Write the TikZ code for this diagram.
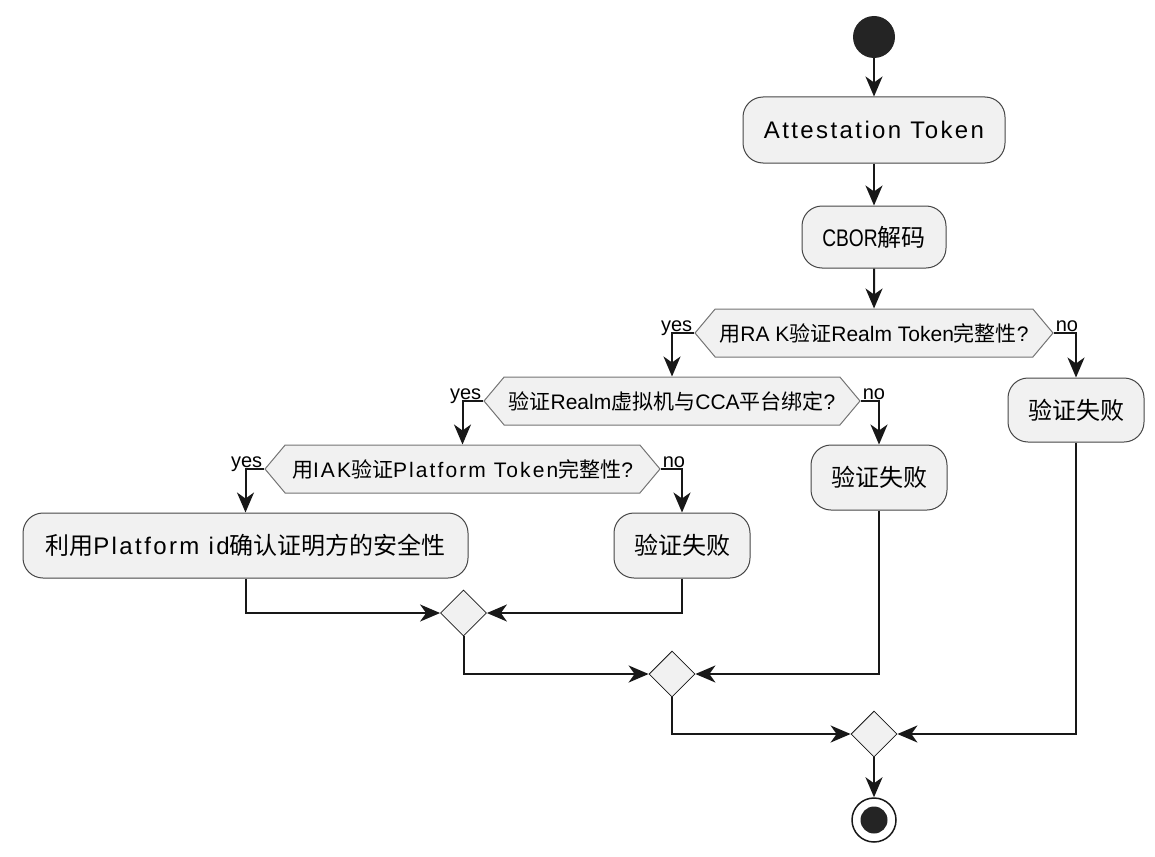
\documentclass[tikz,border=0pt]{standalone}
\usepackage{fontspec}
\setmainfont{Liberation Sans}
\newfontfamily\cjk{Noto Sans CJK SC}
\usetikzlibrary{arrows.meta, shapes.geometric, shapes.symbols}
\definecolor{actfill}{HTML}{F1F1F1}
\definecolor{ink}{HTML}{181818}
\newcommand{\spaced}[1]{{\addfontfeature{LetterSpace=10}#1}}
\newcommand{\narrow}[1]{{\addfontfeature{FakeStretch=0.8}#1}}

\begin{document}
\begin{tikzpicture}[x=1pt, y=-1pt,
    act/.style={draw=ink!80, line width=1pt, fill=actfill, rounded corners=20pt,
                minimum height=64pt, inner sep=4pt, font=\fontsize{24}{28}\selectfont},
    test/.style={shape=signal, signal to=west and east, signal pointer angle=100,
                 draw=ink!60, line width=1pt, fill=actfill, minimum height=48pt,
                 inner xsep=0pt, inner ysep=2pt, font=\fontsize{21}{24}\selectfont},
    merge/.style={diamond, draw=ink, line width=0.8pt, fill=actfill,
                  minimum width=46pt, minimum height=46pt, inner sep=0pt},
    guard/.style={font=\fontsize{20}{22}\selectfont, inner sep=0pt},
    flow/.style={draw=ink, line width=2pt,
                 -{Stealth[length=20pt, width=17pt, inset=6pt]}}]
    \useasboundingbox (0,0) rectangle (1155,856);

    \node[circle, fill=ink!95, minimum size=42pt, inner sep=0pt] at (874,37) (start) {};
    \node[act, minimum width=262pt, minimum height=66pt] at (874,130) (tok)
        {\spaced{Attestation Token}};
    \node[act, minimum width=144pt, minimum height=62pt] at (874,237) (cbor)
        {\narrow{CBOR}{\cjk 解码}};

    \node[test, minimum width=358pt] at (874,333) (q1)
        {{\cjk 用}RA K{\cjk 验证}Realm Token{\cjk 完整性}?};
    \node[act, minimum width=136pt] at (1076,410) (fail1) {\cjk 验证失败};

    \node[test, minimum width=376pt] at (672,401) (q2)
        {{\cjk 验证}Realm{\cjk 虚拟机与}CCA{\cjk 平台绑定}?};
    \node[act, minimum width=136pt, minimum height=65pt] at (879,477.5) (fail2) {\cjk 验证失败};

    \node[test, minimum width=395pt] at (462.5,469) (q3)
        {{\cjk 用}\spaced{IAK}{\cjk 验证}\spaced{Platform Token}{\cjk 完整性}?};
    \node[act, minimum width=445pt, minimum height=65pt] at (245.5,545.5) (ok)
        {{\cjk 利用}\spaced{Platform id}{\cjk 确认证明方的安全性}};
    \node[act, minimum width=136pt, minimum height=65pt] at (682,545.5) (fail3) {\cjk 验证失败};

    \node[merge] at (463.5,613) (m1) {};
    \node[merge] at (672,674) (m2) {};
    \node[merge] at (874,734) (m3) {};

    \node[circle, draw=ink, line width=1.5pt, fill=white, minimum size=44pt, inner sep=0pt]
        at (874,820) (stop) {};
    \node[circle, fill=ink!95, minimum size=27pt, inner sep=0pt] at (stop.center) (stopdot) {};

    % guards
    \node[guard, anchor=base east] at ([shift={(-2,-2)}]q1.west) (y1) {yes};
    \node[guard, anchor=base west] at ([shift={(2,-2)}]q1.east) (n1) {no};
    \node[guard, anchor=base east] at ([shift={(-2,-2)}]q2.west) (y2) {yes};
    \node[guard, anchor=base west] at ([shift={(2,-2)}]q2.east) (n2) {no};
    \node[guard, anchor=base east] at ([shift={(-2,-2)}]q3.west) (y3) {yes};
    \node[guard, anchor=base west] at ([shift={(2,-2)}]q3.east) (n3) {no};

    \draw[flow] (start) -- (tok);
    \draw[flow] (tok) -- (cbor);
    \draw[flow] (cbor) -- (q1);
    \draw[flow] (q1.west) -| (q2.north);
    \draw[flow] (q1.east) -| (fail1.north);
    \draw[flow] (q2.west) -| (q3.north);
    \draw[flow] (q2.east) -| (fail2.north);
    \draw[flow] (q3.west) -| (ok.north);
    \draw[flow] (q3.east) -| (fail3.north);
    \draw[flow] (ok.south) |- (m1.west);
    \draw[flow] (fail3.south) |- (m1.east);
    \draw[flow] (m1.south) |- (m2.west);
    \draw[flow] (fail2.south) |- (m2.east);
    \draw[flow] (m2.south) |- (m3.west);
    \draw[flow] (fail1.south) |- (m3.east);
    \draw[flow] (m3) -- (stop);
\end{tikzpicture}
\end{document}
